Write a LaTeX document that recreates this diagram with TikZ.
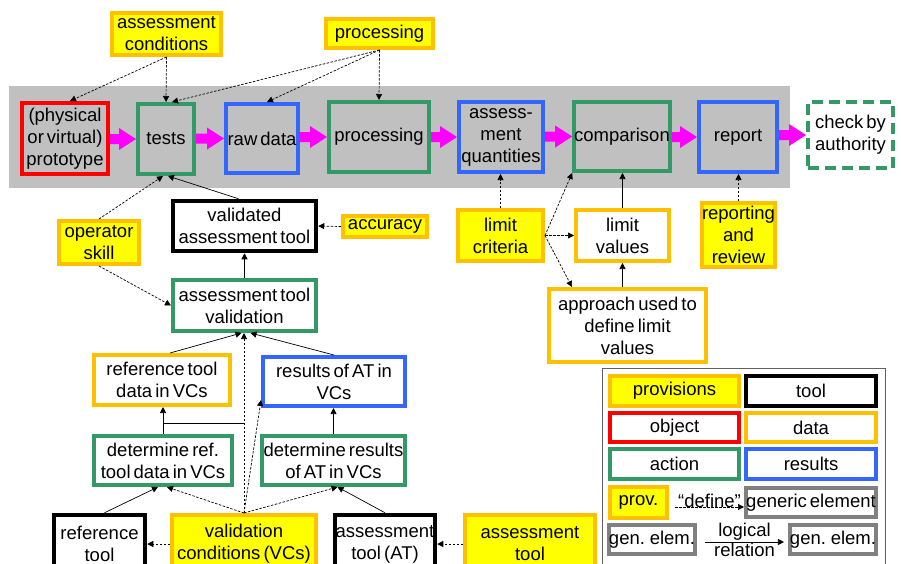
\documentclass[tikz,border=0pt]{standalone}
\usepackage{fontspec}
\setmainfont{Liberation Sans}[WordSpace=0.6]
\usetikzlibrary{arrows.meta,calc}

\definecolor{provyellow}{RGB}{255,255,0}
\definecolor{provedge}{RGB}{255,192,0}
\definecolor{objred}{RGB}{255,0,0}
\definecolor{actgreen}{RGB}{51,153,102}
\definecolor{resblue}{RGB}{51,102,255}
\definecolor{bandgray}{RGB}{192,192,192}
\definecolor{genericgray}{RGB}{128,128,128}
\definecolor{flowpink}{RGB}{255,0,255}
\definecolor{framegray}{RGB}{96,96,96}

\newcommand\boxfont{\fontsize{18.5}{22}\selectfont}

% thick process arrow between two neighbouring boxes of the main chain
\newcommand\flowarrow[2]{%
  \fill[flowpink]
    ($(#1.east |- #2.west)+(0,-5)$) -- ($(#2.west)+(-17,-5)$) --
    ($(#2.west)+(-17,-11)$) -- (#2.west) -- ($(#2.west)+(-17,11)$) --
    ($(#2.west)+(-17,5)$) -- ($(#1.east |- #2.west)+(0,5)$) -- cycle;}

\tikzset{
  elem/.style={line width=4pt, align=center, inner xsep=0pt, inner ysep=1pt,
    font=\boxfont},
  provbox/.style={elem, draw=provedge, fill=provyellow},
  toolbox/.style={elem, draw=black, fill=white, line width=4.5pt},
  objbox/.style={elem, draw=objred},
  databox/.style={elem, draw=provedge, fill=white},
  actbox/.style={elem, draw=actgreen},
  resbox/.style={elem, draw=resblue},
  genbox/.style={elem, draw=genericgray, fill=white},
  plainlbl/.style={font=\boxfont},
  rel/.style={draw=black, line width=0.7pt, -{Triangle[length=6pt,width=6pt]}},
  dep/.style={rel, dash pattern=on 2.5pt off 1.5pt},
  link/.style={draw=black, line width=0.7pt}
}

\begin{document}
\begin{tikzpicture}[x=1pt, y=-1pt]
\useasboundingbox (0,0) rectangle (901,563);
\clip (0,0) rectangle (901,563);

% band behind the main assessment chain
\fill[bandgray] (9,86) rectangle (790,188);

% main chain
\node[objbox, minimum width=86, minimum height=71] (proto) at (65,138.5) {(physical\\or virtual)\\prototype};
\node[actbox, minimum width=56, minimum height=70] (tests) at (166,139) {tests};
\node[resbox, minimum width=72, minimum height=69] (rawdata) at (262,138.5) {raw data};
\node[actbox, minimum width=100, minimum height=70] (procbox) at (379,137) {processing};
\node[resbox, minimum width=84, minimum height=70] (quant) at (501,137) {assess-\\ment\\quantities};
\node[actbox, minimum width=94, minimum height=69] (comp) at (622,136.5) {comparison};
\node[resbox, minimum width=78, minimum height=70] (report) at (738,137) {report};
\node[actbox, fill=white, dash pattern=on 11pt off 6pt, minimum width=85, minimum height=66] (authority) at (850.5,135) {check by\\authority};

\flowarrow{proto}{tests}
\flowarrow{tests}{rawdata}
\flowarrow{rawdata}{procbox}
\flowarrow{procbox}{quant}
\flowarrow{quant}{comp}
\flowarrow{comp}{report}
\flowarrow{report}{authority}

% provisions above the chain
\node[provbox, minimum width=109, minimum height=42] (asscond) at (166.5,34) {assessment\\conditions};
\node[provbox, minimum width=107, minimum height=29] (procprov) at (379.5,33.5) {processing};

% tool validation branch
\node[toolbox, minimum width=143, minimum height=50] (valtool) at (244.5,226) {validated\\assessment tool};
\node[provbox, minimum width=84, minimum height=21] (accuracy) at (385,226.5) {accuracy};
\node[provbox, minimum width=80, minimum height=43] (opskill) at (99,242.5) {operator\\skill};
\node[actbox, fill=white, minimum width=143, minimum height=51] (atval) at (244.5,305.5) {assessment tool\\validation};
\node[databox, minimum width=136, minimum height=50] (reftooldata) at (162,380) {reference tool\\data in VCs};
\node[resbox, fill=white, minimum width=142, minimum height=49] (resAT) at (334,381.5) {results of AT in\\VCs};
\node[actbox, fill=white, minimum width=138, minimum height=49] (detref) at (163,460.5) {determine ref.\\tool data in VCs};
\node[actbox, fill=white, minimum width=143, minimum height=49] (detres) at (333.5,460.5) {determine results\\of AT in VCs};
\node[toolbox, minimum width=91, minimum height=58] (reftool) at (99.5,544) {reference\\tool};
\node[provbox, minimum width=144, minimum height=58] (VCs) at (244,544) {validation\\conditions (VCs)};
\node[toolbox, minimum width=100, minimum height=58] (AT) at (385,544) {assessment\\tool (AT)};
\node[provbox, minimum width=130, minimum height=58] (atprov) at (530,544) {assessment\\tool};

% limit values branch
\node[provbox, minimum width=85, minimum height=51] (limcrit) at (500.5,235.5) {limit\\criteria};
\node[databox, minimum width=93, minimum height=51] (limval) at (622.5,235.5) {limit\\values};
\node[provbox, minimum width=73, minimum height=64] (reprev) at (738.5,235) {reporting\\and\\review};
\node[databox, minimum width=157, minimum height=73] (approach) at (627.5,325.5) {approach used to\\define limit\\values};

% connectors of the upper part
\draw[dep] (asscond.south) -- ([xshift=5pt]proto.north);
\draw[dep] (asscond.south) -- (tests.north);
\draw[dep] (procprov.south) -- ([xshift=6pt]tests.north);
\draw[dep] (procprov.south) -- ([xshift=5pt]rawdata.north);
\draw[dep] (procprov.south) -- (procbox.north);
\draw[dep] (opskill.north) -- ([xshift=-3pt]tests.south);
\draw[rel] ([xshift=-6pt]valtool.north) -- ([xshift=2pt]tests.south);
\draw[dep] (accuracy.west) -- (valtool.east);
\draw[dep] (opskill.south) -- (atval.west);
\draw[rel] (atval.north) -- (valtool.south);

% connectors of the validation branch
\draw[rel] ([xshift=8pt]reftooldata.north) -- ([xshift=-3pt]atval.south);
\draw[rel] (resAT.north) -- ([xshift=6pt]atval.south);
\draw[dep] (VCs.north) -- (VCs.north |- atval.south);
\draw[dep] (VCs.north) -- ([yshift=8pt]resAT.south west);
\draw[dep] (VCs.north) -- ([xshift=4pt]detref.south);
\draw[dep] (VCs.north) -- ([xshift=4pt]detres.south);
\draw[rel] ([xshift=5pt]reftool.north) -- ([xshift=-5pt]detref.south);
\draw[rel] (AT.north) -- ([xshift=4pt]detres.south);
\draw[dep] (VCs.west) -- (reftool.east);
\draw[dep] (atprov.west) -- (AT.east);
\draw[rel] (detref.north) -- (detref.north |- reftooldata.south);
\coordinate (junction) at (VCs.north |- 0,423);
\draw[link] (junction -| detref.north) -- (junction);
\draw[rel] (detres.north) -- (detres.north |- resAT.south);

% connectors of the limit values branch
\draw[dep] (limcrit.north) -- (limcrit.north |- quant.south);
\draw[dep] (limcrit.east) -- (comp.south west);
\draw[dep] (limcrit.east) -- (limval.west);
\draw[dep] (limcrit.east) -- ([xshift=25pt]approach.north west);
\draw[rel] (limval.north) -- (limval.north |- comp.south);
\draw[rel] (limval.south |- approach.north) -- (limval.south);
\draw[dep] (reprev.north) -- (reprev.north |- report.south);

% legend
\draw[framegray, line width=0.8pt] (602,368) rectangle (885,580);
\node[provbox, minimum width=129, minimum height=30] (lprov) at (674.5,391) {provisions};
\node[toolbox, minimum width=130, minimum height=30] (ltool) at (811,391) {tool};
\node[objbox, fill=white, minimum width=129, minimum height=29] (lobj) at (674.5,427.5) {object};
\node[databox, minimum width=130, minimum height=29] (ldata) at (811,427.5) {data};
\node[actbox, fill=white, minimum width=129, minimum height=30] (lact) at (674.5,464) {action};
\node[resbox, fill=white, minimum width=130, minimum height=30] (lres) at (811,464) {results};
\node[provbox, minimum width=57, minimum height=31] (lprovshort) at (638.5,502.5) {prov.};
\node[genbox, minimum width=130, minimum height=29] (lgeneric) at (811,502.5) {generic element};
\node[genbox, minimum width=86, minimum height=29] (lgenA) at (652,539.5) {gen. elem.};
\node[genbox, minimum width=86, minimum height=29] (lgenB) at (833,539.5) {gen. elem.};
\draw[dep] ([xshift=6pt,yshift=-4.5pt]lprovshort.east) -- ([yshift=-4.5pt]lgeneric.west)
  node[plainlbl, midway, above, inner sep=0pt, yshift=-1pt] (deflbl) {“define”};
\draw[rel] ([xshift=8pt,yshift=-2.5pt]lgenA.east) -- ([xshift=-4pt,yshift=-2.5pt]lgenB.west)
  node[plainlbl, midway, above, inner sep=1pt] (loglbl) {logical}
  node[plainlbl, midway, below, inner sep=1pt] (rellbl) {relation};
\end{tikzpicture}
\end{document}
